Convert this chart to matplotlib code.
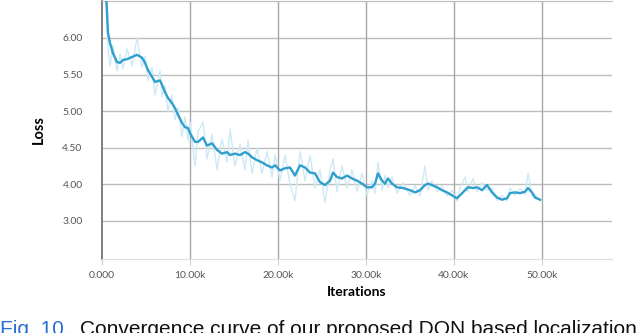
import matplotlib.pyplot as plt
from matplotlib.ticker import FixedLocator

# iterations (thousands), smoothed loss and raw loss
iters_k = [0.1, 0.5, 0.68, 0.91, 1.25, 1.70, 2.05, 2.39, 2.84, 3.41, 3.98, 4.55, 4.89, 5.23,
           5.68, 6.02, 6.59, 6.82, 7.16, 7.50, 7.95, 8.30, 8.64, 9.09, 9.43, 9.77, 10.0, 10.57,
           10.91, 11.48, 11.93, 12.50, 13.07, 13.64, 14.20, 14.55, 15.11, 15.68, 16.25, 16.59,
           17.05, 17.61, 18.18, 18.75, 19.32, 19.66, 20.23, 20.80, 21.36, 21.93, 22.50, 23.07,
           23.64, 24.20, 24.77, 25.34, 25.91, 26.25, 26.70, 27.27, 27.84, 28.41, 28.98, 29.55,
           30.11, 30.68, 31.02, 31.36, 31.82, 32.16, 32.50, 32.95, 33.52, 34.20, 35.00, 35.57,
           36.14, 36.70, 37.05, 37.50, 38.07, 38.64, 39.20, 39.77, 40.34, 40.68, 41.25, 41.59,
           42.16, 42.61, 43.18, 43.75, 44.32, 44.89, 45.45, 46.02, 46.36, 46.93, 47.50, 48.07,
           48.41, 48.86, 49.20, 49.77]
loss_smooth = [7.3, 6.52, 6.07, 5.93, 5.79, 5.67, 5.66, 5.70, 5.71, 5.74, 5.77, 5.73, 5.66, 5.56,
               5.47, 5.40, 5.42, 5.36, 5.26, 5.18, 5.11, 5.04, 4.95, 4.84, 4.78, 4.77, 4.70, 4.58,
               4.58, 4.64, 4.53, 4.56, 4.47, 4.42, 4.44, 4.40, 4.42, 4.40, 4.44, 4.42,
               4.37, 4.33, 4.30, 4.26, 4.23, 4.26, 4.19, 4.22, 4.23, 4.12, 4.26, 4.23,
               4.16, 4.15, 4.03, 3.99, 4.05, 4.16, 4.10, 4.08, 4.12, 4.08, 4.05, 4.01,
               3.96, 3.96, 4.01, 4.15, 4.05, 4.01, 4.08, 4.01, 3.96, 3.95, 3.92, 3.89,
               3.92, 3.99, 4.01, 3.99, 3.96, 3.92, 3.89, 3.85, 3.81, 3.85, 3.92, 3.96,
               3.95, 3.96, 3.92, 3.99, 3.89, 3.82, 3.79, 3.81, 3.88, 3.89, 3.88, 3.90,
               3.95, 3.89, 3.82, 3.79]
loss_raw = [7.3, 6.6, 5.85, 5.62, 5.9, 5.55, 5.78, 5.58, 5.85, 5.62, 6.0, 5.6, 5.75, 5.42,
            5.6, 5.22, 5.55, 5.2, 5.35, 5.0, 5.22, 4.88, 5.05, 4.65, 4.92, 4.6, 4.85, 4.25,
            4.72, 4.85, 4.35, 4.68, 4.2, 4.62, 4.3, 4.75, 4.25, 4.55, 4.2, 4.6,
            4.15, 4.5, 4.15, 4.45, 4.1, 4.4, 4.05, 4.4, 4.0, 3.78, 4.45, 4.05,
            4.4, 3.95, 4.2, 3.75, 4.2, 4.35, 3.9, 4.25, 3.95, 4.2, 3.9, 4.15,
            3.85, 4.05, 3.88, 4.3, 3.92, 4.12, 3.95, 4.1, 3.88, 4.02, 3.85, 3.98,
            3.84, 4.25, 3.92, 4.05, 3.9, 3.98, 3.84, 3.92, 3.77, 3.95, 4.1, 3.9,
            4.08, 3.9, 4.02, 3.92, 3.95, 3.78, 3.85, 3.77, 3.95, 3.85, 3.94, 3.86,
            4.15, 3.85, 3.86, 3.78]

y_ticks = [6.0, 5.5, 5.0, 4.5, 4.0, 3.5]
y_tick_labels = ['6.00', '5.50', '5.00', '4.50', '4.00', '3.00']
x_ticks = [0, 10000, 20000, 30000, 40000, 50000]
x_tick_labels = ['0.000', '10.00k', '20.00k', '30.00k', '40.00k', '50.00k']

iters = [k * 1000 for k in iters_k]

plt.rcParams['font.family'] = ['Lato', 'DejaVu Sans']

fig = plt.figure(figsize=(6.4, 3.33), dpi=100)
ax = fig.add_axes([102 / 640, 1 - 259 / 333, 510 / 640, 258 / 333])

ax.plot(iters, loss_raw, color='#cdeaf6', linewidth=1.0, zorder=2)
ax.plot(iters, loss_smooth, color='#2f9fcd', linewidth=1.7, zorder=3)

ax.set_xlim(0, 57950)
ax.set_ylim(2.98, 6.505)

ax.yaxis.set_major_locator(FixedLocator(y_ticks))
ax.set_yticklabels(y_tick_labels)
ax.xaxis.set_major_locator(FixedLocator(x_ticks))
ax.set_xticklabels(x_tick_labels)

# grid: light horizontals, darker verticals
for yv in y_ticks:
    ax.axhline(yv, color='#bdbdbd', linewidth=1.0, zorder=1)
for xv in x_ticks[1:]:
    ax.axvline(xv, color='#a8a8a8', linewidth=1.0, zorder=1)

ax.spines['right'].set_visible(False)
ax.spines['top'].set_color('#bdbdbd')
ax.spines['bottom'].set_color('#dddddd')
ax.spines['left'].set_color('#6a6a6a')
ax.spines['left'].set_linewidth(1.2)

ax.tick_params(axis='y', length=0, pad=14, labelsize=7.5, labelcolor='#555555')
ax.tick_params(axis='x', length=4, color='#cccccc', pad=5, labelsize=7.5, labelcolor='#555555')

ax.set_ylabel('Loss', fontsize=10.5, fontweight='bold', labelpad=12)
ax.set_xlabel('Iterations', fontsize=10, fontweight='bold', labelpad=4)

# caption, cut off at the bottom edge as in the source
fig.text(0.0, 1 - 320 / 333, 'Fig. 10.', color='#2a6fd6', fontsize=15,
         family='Liberation Sans', va='top', ha='left')
fig.text(80 / 640, 1 - 320 / 333, 'Convergence curve of our proposed DQN based localization',
         color='#111111', fontsize=15, family='Liberation Sans', va='top', ha='left')

fig.savefig('out.png', dpi=100)
